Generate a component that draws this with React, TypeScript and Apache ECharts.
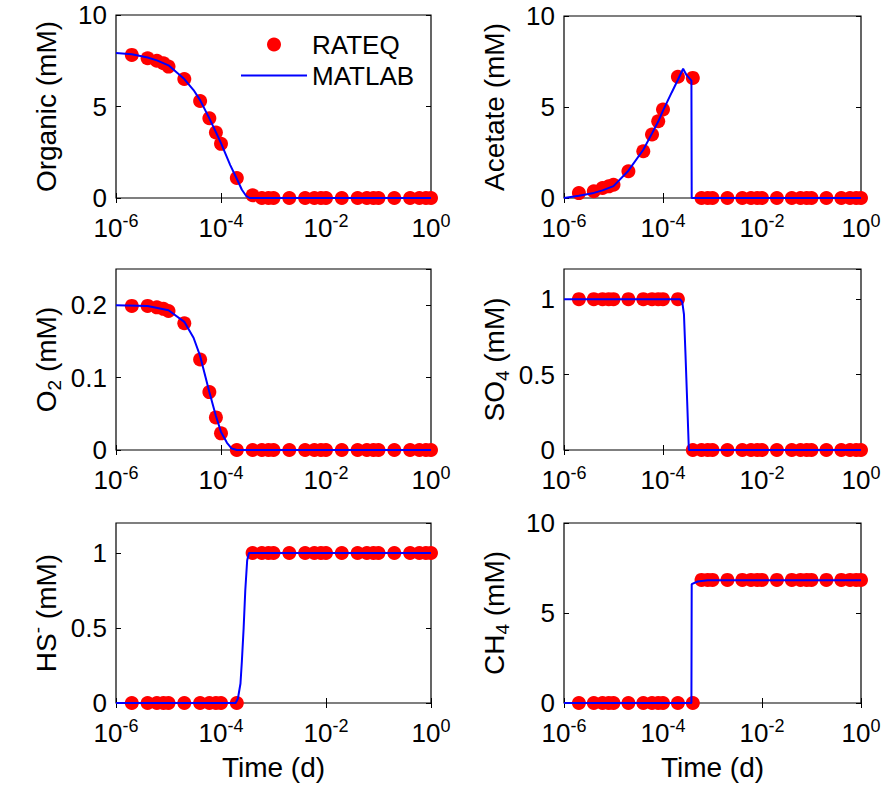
import React, { useEffect, useRef } from 'react';
import * as echarts from 'echarts';

// Sampling times (d) of the RATEQ points
const times = [
  2e-6, 4e-6, 6e-6, 8e-6, 1e-5,
  2e-5, 4e-5, 6e-5, 8e-5, 1e-4,
  2e-4, 4e-4, 6e-4, 8e-4, 1e-3,
  2e-3, 4e-3, 6e-3, 8e-3, 1e-2,
  2e-2, 4e-2, 6e-2, 8e-2, 1e-1,
  2e-1, 4e-1, 6e-1, 8e-1, 1,
];

// RATEQ (red dots)
const organicRateq = [7.82, 7.64, 7.5, 7.36, 7.18, 6.5, 5.3, 4.36, 3.58, 2.96, 1.09, 0.15, 0, 0, 0, 0, 0, 0, 0, 0, 0, 0, 0, 0, 0, 0, 0, 0, 0, 0];
const acetateRateq = [0.27, 0.37, 0.55, 0.64, 0.73, 1.47, 2.57, 3.49, 4.22, 4.86, 6.66, 6.6, 0, 0, 0, 0, 0, 0, 0, 0, 0, 0, 0, 0, 0, 0, 0, 0, 0, 0];
const o2Rateq = [0.199, 0.199, 0.197, 0.195, 0.192, 0.175, 0.125, 0.08, 0.045, 0.023, 0, 0, 0, 0, 0, 0, 0, 0, 0, 0, 0, 0, 0, 0, 0, 0, 0, 0, 0, 0];
const so4Rateq = [1, 1, 1, 1, 1, 1, 1, 1, 1, 1, 1, 0, 0, 0, 0, 0, 0, 0, 0, 0, 0, 0, 0, 0, 0, 0, 0, 0, 0, 0];
const hsRateq = [0, 0, 0, 0, 0, 0, 0, 0, 0, 0, 0, 1, 1, 1, 1, 1, 1, 1, 1, 1, 1, 1, 1, 1, 1, 1, 1, 1, 1, 1];
const ch4Rateq = [0, 0, 0, 0, 0, 0, 0, 0, 0, 0, 0, 0, 6.84, 6.84, 6.84, 6.84, 6.84, 6.84, 6.84, 6.84, 6.84, 6.84, 6.84, 6.84, 6.84, 6.84, 6.84, 6.84, 6.84, 6.84];

// MATLAB (blue lines)
const organicLineT = [1e-6, 2e-6, 4e-6, 6e-6, 1e-5, 2e-5, 3e-5, 4e-5, 6e-5, 8e-5, 1e-4, 1.5e-4, 2e-4, 2.5e-4, 3e-4, 3.5e-4, 1];
const organicLineV = [7.92, 7.85, 7.68, 7.52, 7.25, 6.5, 5.9, 5.35, 4.35, 3.6, 3.0, 1.8, 1.05, 0.45, 0.12, 0, 0];

const acetateLineT = [1e-6, 2e-6, 4e-6, 6e-6, 1e-5, 2e-5, 4e-5, 6e-5, 8e-5, 1e-4, 1.5e-4, 2e-4, 2.55e-4, 3e-4, 3.75e-4, 3.8e-4, 1];
const acetateLineV = [0, 0.12, 0.28, 0.42, 0.65, 1.5, 2.65, 3.55, 4.2, 4.8, 5.8, 6.5, 7.1, 6.75, 6.45, 0, 0];

const o2LineT = [1e-6, 4e-6, 1e-5, 2e-5, 3e-5, 4e-5, 6e-5, 8e-5, 1e-4, 1.3e-4, 1.6e-4, 2e-4, 1];
const o2LineV = [0.2, 0.199, 0.193, 0.177, 0.155, 0.13, 0.08, 0.047, 0.025, 0.01, 0.002, 0, 0];

const so4LineT = [1e-6, 2.2e-4, 2.45e-4, 2.65e-4, 2.85e-4, 3.08e-4, 3.33e-4, 1];
const so4LineV = [1, 1, 0.98, 0.9, 0.63, 0.32, 0, 0];

const hsLineT = [1e-6, 1.9e-4, 2.1e-4, 2.35e-4, 2.5e-4, 2.7e-4, 2.9e-4, 3.15e-4, 3.4e-4, 1];
const hsLineV = [0, 0, 0.03, 0.13, 0.28, 0.5, 0.75, 0.95, 1, 1];

const ch4LineT = [1e-6, 3.75e-4, 3.8e-4, 5e-4, 8e-4, 1];
const ch4LineV = [0, 0, 6.6, 6.75, 6.82, 6.82];

// Axis titles
const yTitles = ['Organic (mM)', 'Acetate (mM)', 'O{sub|2} (mM)', 'SO{sub|4} (mM)', 'HS{sup|-} (mM)', 'CH{sub|4} (mM)'];
const xTitle = 'Time (d)';
const yMaxes = [10, 10, 0.25, 1.2, 1.2, 10];
const yIntervals = [5, 5, 0.1, 0.5, 0.5, 5];

const FONT = '"Liberation Sans", Arial, Helvetica, sans-serif';

const panels = [
  { rateq: organicRateq, lt: organicLineT, lv: organicLineV, box: { left: 116, top: 15, width: 315, height: 183 } },
  { rateq: acetateRateq, lt: acetateLineT, lv: acetateLineV, box: { left: 564, top: 16, width: 297, height: 182 } },
  { rateq: o2Rateq, lt: o2LineT, lv: o2LineV, box: { left: 116, top: 269, width: 315, height: 181 } },
  { rateq: so4Rateq, lt: so4LineT, lv: so4LineV, box: { left: 564, top: 269, width: 297, height: 181 } },
  { rateq: hsRateq, lt: hsLineT, lv: hsLineV, box: { left: 116, top: 523, width: 315, height: 180 } },
  { rateq: ch4Rateq, lt: ch4LineT, lv: ch4LineV, box: { left: 564, top: 523, width: 297, height: 180 } },
];

function buildOption() {
  const grid: any[] = [];
  const xAxis: any[] = [];
  const yAxis: any[] = [];
  const series: any[] = [];
  const tick = { inside: true, length: 5, lineStyle: { color: '#000', width: 1 } };

  panels.forEach((p, i) => {
    grid.push({ ...p.box, show: true, borderColor: '#000', borderWidth: 1.2, backgroundColor: 'transparent' });
    const isBottom = i >= 4;
    const xBase = {
      type: 'log', logBase: 100, min: 1e-6, max: 1, gridIndex: i,
      axisLine: { show: false }, splitLine: { show: false }, minorTick: { show: false },
      axisTick: tick,
    };
    xAxis.push({
      ...xBase, position: 'bottom',
      axisLabel: {
        margin: 14, color: '#000',
        formatter: (v: number) => `{b|10}{s|${Math.round(Math.log10(v))}}`,
        rich: {
          b: { fontSize: 26, fontFamily: FONT, color: '#000', lineHeight: 32 },
          s: { fontSize: 18, fontFamily: FONT, color: '#000', lineHeight: 16, verticalAlign: 'top' },
        },
      },
      name: isBottom ? xTitle : '', nameLocation: 'middle', nameGap: 50,
      nameTextStyle: { fontSize: 28, fontFamily: FONT, color: '#000' },
    });
    xAxis.push({ ...xBase, position: 'top', axisLabel: { show: false } });

    const yBase = {
      type: 'value', min: 0, max: yMaxes[i], interval: yIntervals[i], gridIndex: i,
      axisLine: { show: false }, splitLine: { show: false }, axisTick: tick,
    };
    const showMax = yMaxes[i] % yIntervals[i] === 0;
    yAxis.push({
      ...yBase, position: 'left',
      axisLabel: {
        margin: 9, fontSize: 26, fontFamily: FONT, color: '#000', showMaxLabel: showMax,
        formatter: (v: number) => String(Math.round(v * 100) / 100),
      },
      name: yTitles[i], nameLocation: 'middle', nameGap: 52, nameRotate: 90,
      nameTextStyle: {
        fontSize: 28, fontFamily: FONT, color: '#000', lineHeight: 36,
        rich: {
          sub: { fontSize: 19, fontFamily: FONT, color: '#000', lineHeight: 16, verticalAlign: 'bottom' },
          sup: { fontSize: 19, fontFamily: FONT, color: '#000', lineHeight: 16, verticalAlign: 'top' },
        },
      },
    });
    yAxis.push({ ...yBase, position: 'right', axisLabel: { show: false } });

    series.push({
      type: 'scatter', name: 'RATEQ', xAxisIndex: i * 2, yAxisIndex: i * 2,
      data: times.map((t, j) => [t, p.rateq[j]]),
      symbol: 'circle', symbolSize: 14, itemStyle: { color: '#ff0000', opacity: 1 }, z: 2, clip: false,
    });
    series.push({
      type: 'line', name: 'MATLAB', xAxisIndex: i * 2, yAxisIndex: i * 2,
      data: p.lt.map((t, j) => [t, p.lv[j]]),
      symbol: 'none', showSymbol: false, lineStyle: { color: '#0000ff', width: 2 },
      itemStyle: { color: '#0000ff' }, z: 3,
    });
  });

  return {
    animation: false,
    backgroundColor: '#fff',
    textStyle: { fontFamily: FONT },
    legend: {
      data: [
        { name: 'RATEQ' },
        { name: 'MATLAB', itemStyle: { opacity: 0 } },
      ],
      orient: 'vertical', left: 235, top: 26,
      itemWidth: 66, itemHeight: 14, itemGap: 4, selectedMode: false,
      textStyle: { fontSize: 26, fontFamily: FONT, color: '#000', lineHeight: 27 },
    },
    grid, xAxis, yAxis, series,
  };
}

export default function App() {
  const ref = useRef<HTMLDivElement>(null);
  useEffect(() => {
    const chart = echarts.init(ref.current!, null, { renderer: 'svg' });
    chart.setOption(buildOption() as any);
    return () => chart.dispose();
  }, []);
  return <div ref={ref} style={{ position: 'fixed', left: 0, top: 0, width: 886, height: 792, background: '#fff' }} />;
}
